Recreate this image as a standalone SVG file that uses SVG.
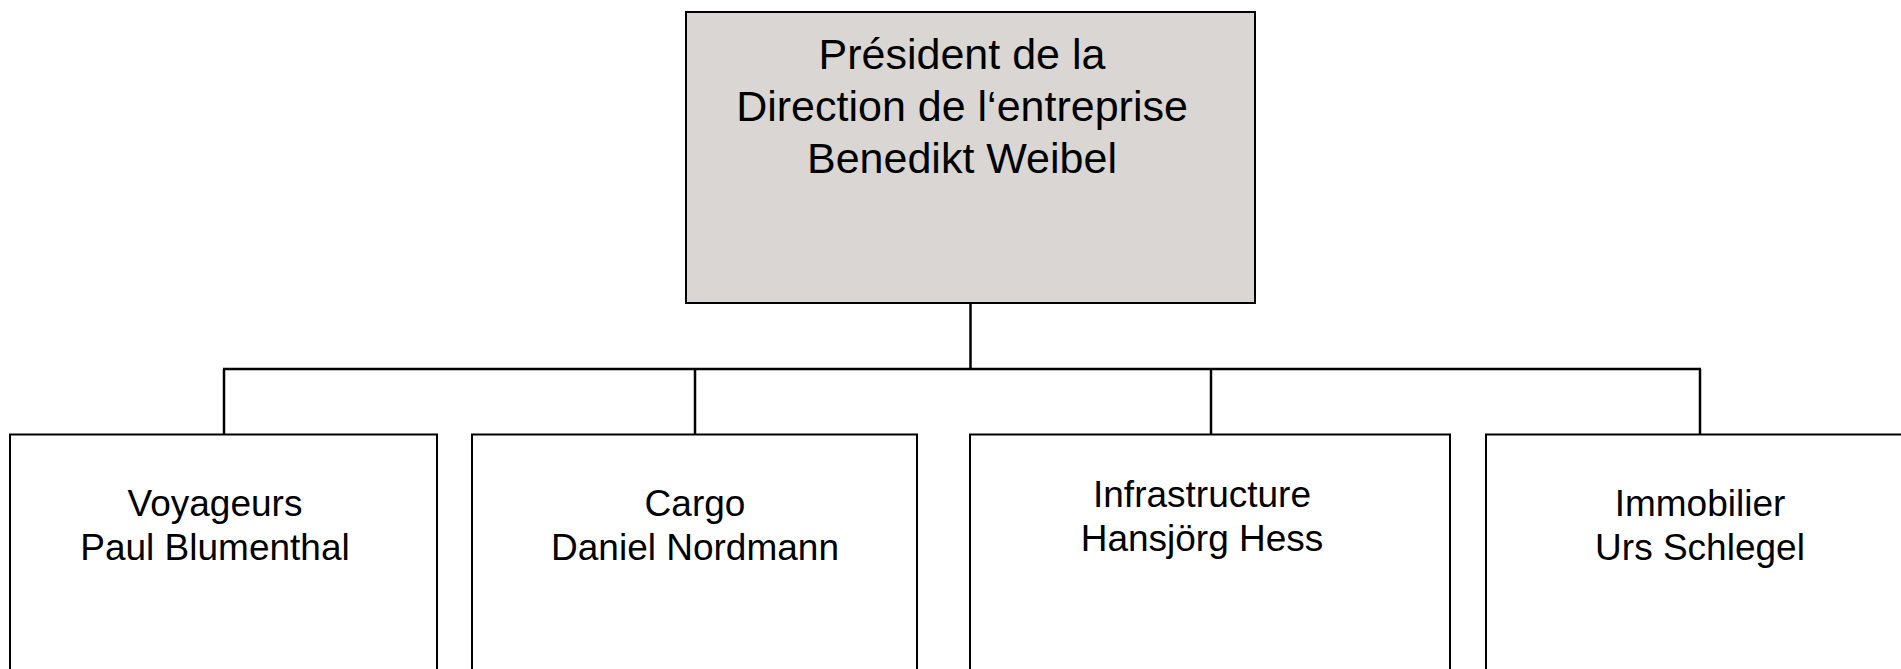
<svg xmlns="http://www.w3.org/2000/svg" width="1901" height="669" viewBox="0 0 1901 669">
<style>
.box{fill:#ffffff;stroke:#000000;stroke-width:2}
.top{fill:#D9D6D3;stroke:#000000;stroke-width:2}
.lbl{font-family:"Liberation Sans",Arial,sans-serif;fill:#000000;text-anchor:middle}
.t1{font-size:43px}
.t2{font-size:37px}
.conn{stroke:#000000;stroke-width:2.5;fill:none}
</style>
<rect width="1901" height="669" fill="#ffffff"/>
<g id="connectors">
<line class="conn" x1="970.5" y1="303" x2="970.5" y2="369"/>
<line class="conn" x1="223" y1="369" x2="1701" y2="369"/>
<line class="conn" x1="224" y1="369" x2="224" y2="434"/>
<line class="conn" x1="695" y1="369" x2="695" y2="434"/>
<line class="conn" x1="1211" y1="369" x2="1211" y2="434"/>
<line class="conn" x1="1700" y1="369" x2="1700" y2="434"/>
</g>
<g id="president">
<rect class="top" x="686" y="12" width="569" height="291"/>
<text class="lbl t1" x="962" y="69">Président de la</text>
<text class="lbl t1" x="962" y="121">Direction de l‘entreprise</text>
<text class="lbl t1" x="962" y="172.5">Benedikt Weibel</text>
</g>
<g id="voyageurs">
<rect class="box" x="10" y="434.5" width="427" height="300"/>
<text class="lbl t2" x="215" y="516">Voyageurs</text>
<text class="lbl t2" x="215" y="560">Paul Blumenthal</text>
</g>
<g id="cargo">
<rect class="box" x="472" y="434.5" width="445" height="300"/>
<text class="lbl t2" x="695" y="515.5">Cargo</text>
<text class="lbl t2" x="695" y="560">Daniel Nordmann</text>
</g>
<g id="infrastructure">
<rect class="box" x="970" y="434.5" width="480" height="300"/>
<text class="lbl t2" x="1202" y="506.5">Infrastructure</text>
<text class="lbl t2" x="1202" y="550.5">Hansjörg Hess</text>
</g>
<g id="immobilier">
<rect class="box" x="1486" y="434.5" width="500" height="300"/>
<text class="lbl t2" x="1700" y="516">Immobilier</text>
<text class="lbl t2" x="1700" y="560">Urs Schlegel</text>
</g>
</svg>
